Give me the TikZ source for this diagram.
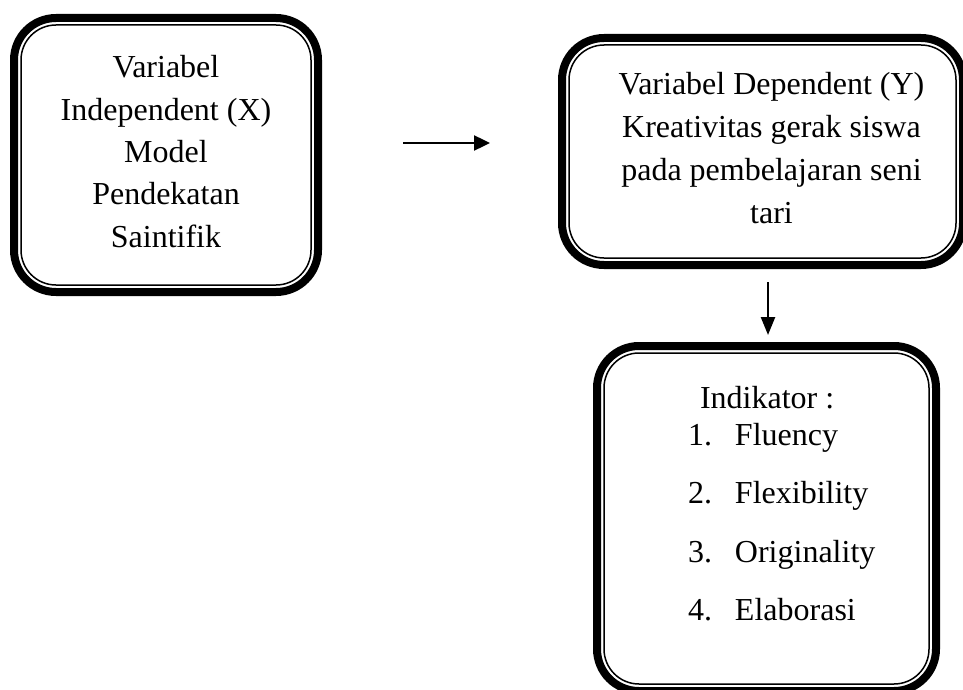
\documentclass[tikz,border=0pt]{standalone}
\usepackage{fontspec}
\setmainfont{Liberation Serif}
\usetikzlibrary{arrows.meta}
\newcommand{\dblborder}[1]{%
  \draw[line width=8pt, rounded corners=42pt] ([shift={(4,4)}]#1.north west) rectangle ([shift={(-4,-4)}]#1.south east);
  \draw[line width=1.5pt, rounded corners=35pt] ([shift={(11,11)}]#1.north west) rectangle ([shift={(-11,-11)}]#1.south east);}
\tikzset{
  boxarea/.style={rectangle, inner sep=0pt, outer sep=0pt},
  txt/.style={inner sep=0pt, outer sep=0pt, font=\fontsize{32pt}{42pt}\selectfont},
  arr/.style={line width=2.4pt, -{Triangle[length=16pt,width=15pt]}}
}
\begin{document}
\begin{tikzpicture}[x=1pt,y=-1pt]
\useasboundingbox (0,0) rectangle (963,690);
\clip (0,0) rectangle (963,690);
\fill[white] (0,0) rectangle (963,690);
% boxes
\node[boxarea, minimum width=312pt, minimum height=282pt] (b1) at (166,155) {};
\node[boxarea, minimum width=409pt, minimum height=235pt] (b2) at (762.5,151.5) {};
\node[boxarea, minimum width=347pt, minimum height=353pt] (b3) at (766.5,518.5) {};
\dblborder{b1}
\dblborder{b2}
\dblborder{b3}
% texts
\node[txt, anchor=base] (t1) at (166,78) {\vtop{\baselineskip=42.25pt\halign{\hfil#\hfil\cr Variabel\cr Independent (X)\cr Model\cr Pendekatan\cr Saintifik\cr}}};
\node[txt, anchor=base] (t2) at (771.5,95) {\vtop{\baselineskip=42.67pt\halign{\hfil#\hfil\cr Variabel Dependent (Y)\cr Kreativitas gerak siswa\cr pada pembelajaran seni\cr tari\cr}}};
\node[txt, anchor=base west] (i0) at (700,408) {Indikator :};
\node[txt, anchor=base west] (i1) at (688,445) {\makebox[47pt][l]{1.}Fluency};
\node[txt, anchor=base west] (i2) at (688,503) {\makebox[47pt][l]{2.}Flexibility};
\node[txt, anchor=base west] (i3) at (688,562) {\makebox[47pt][l]{3.}Originality};
\node[txt, anchor=base west] (i4) at (688,620) {\makebox[47pt][l]{4.}Elaborasi};
% arrows
\coordinate (h1) at (403,143);
\coordinate (h2) at (490,143);
\coordinate (v1) at (768,282);
\coordinate (v2) at (768,335);
\draw[arr] (h1) -- (h2);
\draw[arr, -{Triangle[length=18pt,width=14pt]}] (v1) -- (v2);
\end{tikzpicture}
\end{document}
